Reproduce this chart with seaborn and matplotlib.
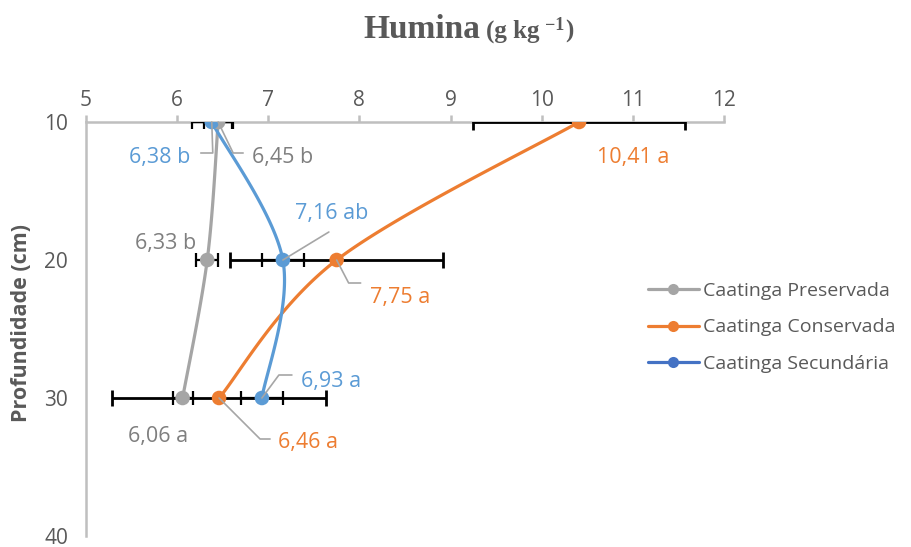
import numpy as np
import pandas as pd
import matplotlib
matplotlib.use("Agg")
import matplotlib.pyplot as plt
import seaborn as sns
from matplotlib.lines import Line2D

# Humin content by depth for three caatinga conditions
depths = [10, 20, 30]
series_names = ["Caatinga Preservada", "Caatinga Conservada", "Caatinga Secundária"]
preservada = [6.45, 6.33, 6.06]
conservada = [10.41, 7.75, 6.46]
secundaria = [6.38, 7.16, 6.93]
err_preservada = [0.16, 0.12, 0.11]
err_conservada = [1.16, 1.17, 1.17]
err_secundaria = [0.22, 0.23, 0.23]
letters_preservada = ["b", "b", "a"]
letters_conservada = ["a", "a", "a"]
letters_secundaria = ["b", "ab", "a"]
x_ticks = [5, 6, 7, 8, 9, 10, 11, 12]
y_ticks = [10, 20, 30, 40]

GRAY, ORANGE, BLUE = "#A5A5A5", "#ED7D31", "#5B9BD5"
LEGEND_BLUE = "#4472C4"
TEXT = "#595959"
AXIS = "#BFBFBF"

sns.set_theme(style="white")
plt.rcParams["font.family"] = ["Open Sans", "DejaVu Sans"]

W, H = 912, 547
fig = plt.figure(figsize=(W / 100, H / 100), dpi=100)
ax = fig.add_axes([86 / W, 11 / H, 638 / W, 414 / H])
ax.set_xlim(5, 12)
ax.set_ylim(40, 10)
ax.xaxis.tick_top()
ax.set_xticks(x_ticks)
ax.set_yticks(y_ticks)
for s in ["right", "bottom"]:
    ax.spines[s].set_visible(False)
for s in ["left", "top"]:
    ax.spines[s].set_color(AXIS)
    ax.spines[s].set_linewidth(1.8)
ax.tick_params(axis="both", which="major", length=5, width=1.8, color=AXIS,
               labelcolor=TEXT, labelsize=15, direction="out")
ax.tick_params(axis="x", pad=3)
ax.tick_params(axis="y", pad=8)
ax.set_xlabel("")
ax.set_ylabel("")


def smooth_path(xs, ys, n=60):
    """Bezier smoothing through the points, computed in screen space."""
    pts = ax.transData.transform(np.column_stack([xs, ys]))
    out = []
    m = len(pts)
    for i in range(m - 1):
        p0 = pts[i - 1] if i > 0 else pts[i]
        p1, p2 = pts[i], pts[i + 1]
        p3 = pts[i + 2] if i + 2 < m else pts[i + 1]
        c1 = p1 + (p2 - p0) / 6.0
        c2 = p2 - (p3 - p1) / 6.0
        t = np.linspace(0, 1, n)[:, None]
        seg = ((1 - t) ** 3) * p1 + 3 * ((1 - t) ** 2) * t * c1 + 3 * (1 - t) * t ** 2 * c2 + t ** 3 * p2
        out.append(seg if i == 0 else seg[1:])
    out = np.vstack(out)
    d = ax.transData.inverted().transform(out)
    return d[:, 0], d[:, 1]


series = [
    (series_names[0], preservada, err_preservada, GRAY),
    (series_names[1], conservada, err_conservada, ORANGE),
    (series_names[2], secundaria, err_secundaria, BLUE),
]

for name, vals, errs, col in series:
    sx, sy = smooth_path(vals, depths)
    curve = pd.DataFrame({"x": sx, "y": sy})
    sns.lineplot(data=curve, x="x", y="y", sort=False, estimator=None, ax=ax,
                 color=col, lw=2.3, zorder=2, legend=False)

for name, vals, errs, col in series:
    big = col == ORANGE
    ax.errorbar(vals, depths, xerr=errs, fmt="none", ecolor="black",
                elinewidth=2.0 if big else 1.6, capsize=6 if big else 5,
                capthick=2.0 if big else 1.6, zorder=3)

for name, vals, errs, col in series:
    pts = pd.DataFrame({"x": vals, "y": depths})
    sns.scatterplot(data=pts, x="x", y="y", ax=ax, color=col, s=110,
                    edgecolor="none", zorder=4, legend=False)
ax.set_xlabel("")
ax.set_ylabel("")


def fmt(v):
    return f"{v:.2f}".replace(".", ",")


def leader(x, y, offs, color="#A6A6A6"):
    px, py = ax.transData.transform((x, y))
    xs = [px] + [px + dx for dx, dy in offs]
    ys = [py] + [py - dy for dx, dy in offs]
    fig.add_artist(Line2D(xs, ys, transform=None, color=color, lw=1.2, zorder=5))


def label(x, y, txt, color, dx, dy, ha):
    ax.annotate(txt, xy=(x, y), xytext=(dx, -dy), textcoords="offset pixels",
                ha=ha, va="center", color=color, fontsize=15.5, zorder=6)


LABEL_GRAY = "#7F7F7F"
# depth 10
label(secundaria[0], depths[0], f"{fmt(secundaria[0])} {letters_secundaria[0]}", BLUE, -21, 36, "right")
leader(secundaria[0], depths[0], [(1, 31), (-11, 31)])
label(preservada[0], depths[0], f"{fmt(preservada[0])} {letters_preservada[0]}", LABEL_GRAY, 34, 36, "left")
leader(preservada[0], depths[0], [(15, 31), (25, 31)])
label(conservada[0], depths[0], f"{fmt(conservada[0])} {letters_conservada[0]}", ORANGE, 18, 36, "left")
# depth 20
label(secundaria[1], depths[1], f"{fmt(secundaria[1])} {letters_secundaria[1]}", BLUE, 12, -47, "left")
leader(secundaria[1], depths[1], [(46, -28)])
label(preservada[1], depths[1], f"{fmt(preservada[1])} {letters_preservada[1]}", LABEL_GRAY, -11, -16, "right")
label(conservada[1], depths[1], f"{fmt(conservada[1])} {letters_conservada[1]}", ORANGE, 33, 37, "left")
leader(conservada[1], depths[1], [(12, 23), (24, 23)])
# depth 30
label(secundaria[2], depths[2], f"{fmt(secundaria[2])} {letters_secundaria[2]}", BLUE, 39, -16, "left")
leader(secundaria[2], depths[2], [(17, -23), (30, -23)])
label(preservada[2], depths[2], f"{fmt(preservada[2])} {letters_preservada[2]}", LABEL_GRAY, 6, 39, "right")
label(conservada[2], depths[2], f"{fmt(conservada[2])} {letters_conservada[2]}", ORANGE, 59, 45, "left")
leader(conservada[2], depths[2], [(41, 41), (51, 41)])

# axis titles
fig.text(22 / W, 1 - 323 / H, "Profundidade (cm)", rotation=90, ha="center",
         va="center", fontsize=15.5, fontweight="bold", color=TEXT)

serif = ["Liberation Serif", "DejaVu Serif"]
renderer = fig.canvas.get_renderer()
base_y = 1 - 38 / H
t1 = fig.text(363 / W, base_y, "Humina", family=serif, fontsize=24,
              fontweight="bold", color=TEXT, va="baseline", ha="left")
x1 = t1.get_window_extent(renderer).x1 / W
t2 = fig.text(x1 + 6 / W, base_y, "(g kg", family=serif, fontsize=18,
              fontweight="bold", color=TEXT, va="baseline", ha="left")
x2 = t2.get_window_extent(renderer).x1 / W
t3 = fig.text(x2 + 6 / W, base_y + 8 / H, "\u22121", family=serif, fontsize=13,
              fontweight="bold", color=TEXT, va="baseline", ha="left")
x3 = t3.get_window_extent(renderer).x1 / W
fig.text(x3 + 1 / W, base_y, ")", family=serif, fontsize=18,
         fontweight="bold", color=TEXT, va="baseline", ha="left")

# legend
handle_colors = [GRAY, ORANGE, LEGEND_BLUE]
handles = [Line2D([0], [0], color=c, lw=2.3, marker="o", markersize=8,
                  markeredgecolor="none") for c in handle_colors]
ax.legend(handles, series_names, loc="upper left",
          bbox_to_anchor=(648 / W, 1 - 282 / H), bbox_transform=fig.transFigure,
          frameon=False, fontsize=14, handlelength=2.6, handletextpad=0.25,
          labelspacing=0.95, borderpad=0, borderaxespad=0, labelcolor=TEXT)

fig.savefig("out.png", dpi=100)
